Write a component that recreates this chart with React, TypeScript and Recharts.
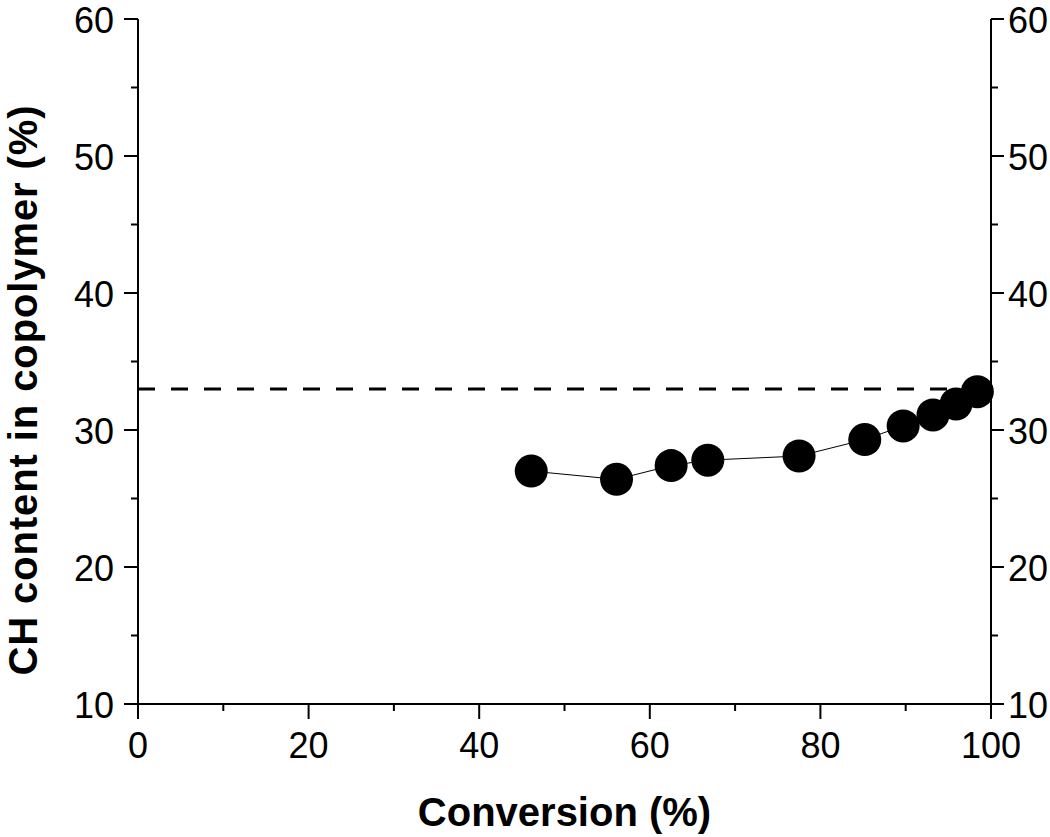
import React from 'react';
import { ScatterChart, Scatter, XAxis, YAxis, ReferenceLine, Label } from 'recharts';

const conversion = [46.1, 56.1, 62.5, 66.8, 77.5, 85.2, 89.7, 93.2, 95.9, 98.4];
const chContent = [27.0, 26.4, 27.4, 27.8, 28.1, 29.3, 30.3, 31.1, 31.9, 32.8];
const feedLevel = 33;

const xTicks = [0, 10, 20, 30, 40, 50, 60, 70, 80, 90, 100];
const xLabels = [0, 20, 40, 60, 80, 100];
const yTicks = [10, 15, 20, 25, 30, 35, 40, 45, 50, 55, 60];
const yLabels = [10, 20, 30, 40, 50, 60];

const data = conversion.map((x, i) => ({ x, y: chContent[i] }));

const FONT = '"Liberation Sans", Arial, sans-serif';

const BottomTick = (props: any) => {
  const { x, y, payload } = props;
  const major = xLabels.includes(payload.value);
  return (
    <g>
      <line x1={x} x2={x} y1={y} y2={y + (major ? 15 : 7)} stroke="#000" strokeWidth={2} />
      {major && (
        <text x={x} y={y + 54} textAnchor="middle" fontSize={36} fontFamily={FONT} fill="#000">
          {payload.value}
        </text>
      )}
    </g>
  );
};

const LeftTick = (props: any) => {
  const { x, y, payload } = props;
  const major = yLabels.includes(payload.value);
  return (
    <g>
      <line x1={x - (major ? 14 : 7)} x2={x} y1={y} y2={y} stroke="#000" strokeWidth={2} />
      {major && (
        <text x={x - 24} y={y + 14} textAnchor="end" fontSize={36} fontFamily={FONT} fill="#000">
          {payload.value}
        </text>
      )}
    </g>
  );
};

const RightTick = (props: any) => {
  const { x, y, payload } = props;
  const major = yLabels.includes(payload.value);
  return (
    <g>
      <line x1={x} x2={x + (major ? 13 : 7)} y1={y} y2={y} stroke="#000" strokeWidth={2} />
      {major && (
        <text x={x + 17} y={y + 14} textAnchor="start" fontSize={36} fontFamily={FONT} fill="#000">
          {payload.value}
        </text>
      )}
    </g>
  );
};

const Dot = (props: any) => {
  const { cx, cy } = props;
  return <circle cx={cx} cy={cy} r={16.5} fill="#000" />;
};

const NoDot = () => <g />;

export default function App() {
  return (
    <div style={{ width: 1050, height: 837 }}>
      <style>{'body { margin: 0; overflow: hidden; }'}</style>
      <ScatterChart width={1050} height={837} margin={{ top: 19, right: 0, bottom: 0, left: 0 }}>
        <XAxis
          xAxisId="top"
          orientation="top"
          type="number"
          dataKey="x"
          domain={[0, 100]}
          height={0}
          tick={false}
          tickLine={false}
          axisLine={{ stroke: '#000', strokeWidth: 2 }}
        />
        <XAxis
          xAxisId="bottom"
          type="number"
          dataKey="x"
          domain={[0, 100]}
          ticks={xTicks}
          interval={0}
          height={133}
          tickSize={0}
          tickMargin={0}
          tickLine={false}
          tick={<BottomTick />}
          axisLine={{ stroke: '#000', strokeWidth: 2 }}
        >
          <Label
            content={(p: any) => {
              const vb = p.viewBox;
              return (
                <text
                  x={vb.x + vb.width / 2}
                  y={826}
                  textAnchor="middle"
                  fontSize={40}
                  fontWeight="bold"
                  fontFamily={FONT}
                  fill="#000"
                >
                  Conversion (%)
                </text>
              );
            }}
          />
        </XAxis>
        <YAxis
          yAxisId="left"
          type="number"
          dataKey="y"
          domain={[10, 60]}
          ticks={yTicks}
          interval={0}
          width={138}
          tickSize={0}
          tickMargin={0}
          tickLine={false}
          tick={<LeftTick />}
          axisLine={{ stroke: '#000', strokeWidth: 2 }}
        >
          <Label
            content={() => (
              <text
                x={37}
                y={390}
                transform="rotate(-90, 37, 390)"
                textAnchor="middle"
                fontSize={40}
                letterSpacing={0.9}
                fontWeight="bold"
                fontFamily={FONT}
                fill="#000"
              >
                CH content in copolymer (%)
              </text>
            )}
          />
        </YAxis>
        <YAxis
          yAxisId="right"
          orientation="right"
          type="number"
          dataKey="y"
          domain={[10, 60]}
          ticks={yTicks}
          interval={0}
          width={59}
          tickSize={0}
          tickMargin={0}
          tickLine={false}
          tick={<RightTick />}
          axisLine={{ stroke: '#000', strokeWidth: 2 }}
        />
        <ReferenceLine
          xAxisId="bottom"
          yAxisId="left"
          y={feedLevel}
          stroke="#000"
          strokeWidth={3}
          strokeDasharray="17 16"
        />
        <Scatter
          xAxisId="top"
          yAxisId="right"
          data={data}
          shape={<NoDot />}
          isAnimationActive={false}
        />
        <Scatter
          xAxisId="bottom"
          yAxisId="left"
          data={data}
          line={{ stroke: '#000', strokeWidth: 1 }}
          shape={<Dot />}
          isAnimationActive={false}
        />
      </ScatterChart>
    </div>
  );
}
